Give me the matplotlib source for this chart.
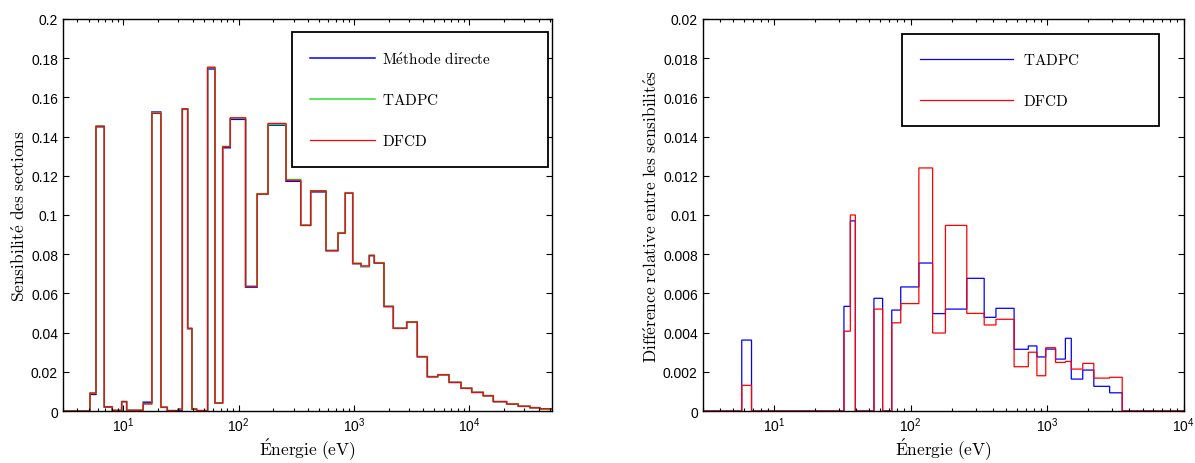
import numpy as np
import matplotlib
matplotlib.use('Agg')
import matplotlib.pyplot as plt
from matplotlib.ticker import FuncFormatter, MultipleLocator, LogLocator

plt.rcParams['font.family'] = ['Liberation Sans', 'DejaVu Sans']
plt.rcParams['mathtext.fontset'] = 'cm'

##### group boundaries (eV)
edges = [3.0, 5.14, 5.8, 6.84, 8.03, 9.69, 10.7, 14.9, 17.7, 21.2, 24.1, 30.0,
         32.5, 36.2, 39.4, 43.3, 53.9, 62.4, 72.8, 84.7, 115, 145, 180, 258,
         346, 422, 573, 728, 842, 977, 1153, 1361, 1503, 1824, 2198, 2871,
         3548, 4335, 5333, 6683, 8492, 10520, 13250, 16190, 21140, 26660,
         33650, 41120, 52200]

##### sensitivities (left panel)
sens_direct = [0, 0.0085, 0.1450, 0.0020, 0.0003, 0.0048, 0.0003, 0.0045,
               0.1525, 0.0019, 0.0002, 0.0005, 0.1540, 0.0420, 0.0010, 0.0002,
               0.1745, 0.0041, 0.1343, 0.1488, 0.0632, 0.1107, 0.1458, 0.1172,
               0.0947, 0.1118, 0.0818, 0.0908, 0.1112, 0.0752, 0.0737, 0.0793,
               0.0755, 0.0533, 0.0422, 0.0454, 0.0277, 0.0175, 0.0185, 0.0146,
               0.0116, 0.0095, 0.0078, 0.0048, 0.0036, 0.0024, 0.0017, 0.0010]
sens_tadpc = [0, 0.0092, 0.1455, 0.0022, 0.0003, 0.0048, 0.0004, 0.0038,
              0.1520, 0.0019, 0.0002, 0.0010, 0.1542, 0.0422, 0.0010, 0.0002,
              0.1752, 0.0041, 0.1350, 0.1494, 0.0636, 0.1109, 0.1462, 0.1181,
              0.0949, 0.1124, 0.0820, 0.0910, 0.1114, 0.0754, 0.0738, 0.0795,
              0.0757, 0.0535, 0.0423, 0.0455, 0.0278, 0.0176, 0.0186, 0.0147,
              0.0117, 0.0096, 0.0079, 0.0048, 0.0037, 0.0025, 0.0017, 0.0010]
sens_dfcd = [0, 0.0092, 0.1452, 0.0022, 0.0003, 0.0048, 0.0004, 0.0036,
             0.1518, 0.0019, 0.0002, 0.0010, 0.1542, 0.0422, 0.0010, 0.0002,
             0.1754, 0.0041, 0.1348, 0.1496, 0.0636, 0.1107, 0.1467, 0.1177,
             0.0947, 0.1123, 0.0818, 0.0908, 0.1112, 0.0752, 0.0740, 0.0793,
             0.0755, 0.0533, 0.0422, 0.0454, 0.0277, 0.0175, 0.0185, 0.0146,
             0.0116, 0.0095, 0.0078, 0.0048, 0.0036, 0.0024, 0.0017, 0.0012]

##### relative differences (right panel)
diff_tadpc = [0, 0, 0.00362, 0, 0, 0, 0, 0, 0, 0, 0, 0, 0.00534, 0.0097, 0, 0,
              0.00575, 0, 0.00515, 0.00633, 0.00755, 0.00497, 0.0052, 0.00677,
              0.00478, 0.00524, 0.00315, 0.00332, 0.00276, 0.00316, 0.00265,
              0.00371, 0.00163, 0.00209, 0.00126, 0.00093, 0, 0, 0, 0, 0, 0,
              0, 0, 0, 0, 0, 0]
diff_dfcd = [0, 0, 0.00131, 0, 0, 0, 0, 0, 0, 0, 0, 0, 0.00407, 0.0100, 0, 0,
             0.0052, 0, 0.0045, 0.00548, 0.0124, 0.00398, 0.00947, 0.00498,
             0.00439, 0.00468, 0.00226, 0.0030, 0.0018, 0.00323, 0.00248,
             0.00253, 0.00214, 0.00243, 0.00168, 0.00172, 0, 0, 0, 0, 0, 0,
             0, 0, 0, 0, 0, 0]

lab_direct = r'$\mathrm{M\acute{e}thode\ directe}$'
lab_tadpc = r'$\mathrm{TADPC}$'
lab_dfcd = r'$\mathrm{DFCD}$'
xlab = r'$\mathrm{\acute{E}nergie\ (eV)}$'

fig = plt.figure(figsize=(11.95, 4.64), dpi=100)
ax1 = fig.add_axes([0.0527, 0.112, 0.409, 0.845])
ax2 = fig.add_axes([0.588, 0.112, 0.4025, 0.845])

p1 = ax1.stairs(sens_direct, edges, baseline=None, color='#0000ff', lw=1.1, label=lab_direct)
p2 = ax1.stairs(sens_tadpc, edges, baseline=None, color='#33dd33', lw=1.1, label=lab_tadpc)
p3 = ax1.stairs(sens_dfcd, edges, baseline=None, color='#ff0000', lw=0.9, label=lab_dfcd)
p4 = ax2.stairs(diff_tadpc, edges, baseline=None, color='#0000ff', lw=0.9, label=lab_tadpc)
p5 = ax2.stairs(diff_dfcd, edges, baseline=None, color='#ff0000', lw=0.9, label=lab_dfcd)
for p in (p1, p2, p3, p4, p5):
    p.set_snap(False)

fmt = FuncFormatter(lambda v, p: '%g' % round(v, 6))

for ax in (ax1, ax2):
    ax.set_xscale('log')
    ax.xaxis.set_major_locator(LogLocator(base=10, numticks=10))
    ax.xaxis.set_minor_locator(LogLocator(base=10, subs=np.arange(2, 10), numticks=20))
    ax.yaxis.set_major_formatter(fmt)
    ax.tick_params(which='both', direction='in', top=True, right=True, labelsize=10, width=0.8)
    ax.tick_params(which='major', length=4)
    ax.tick_params(which='minor', length=2.5)
    for s in ax.spines.values():
        s.set_linewidth(1.0)
    ax.set_xlabel(xlab, fontsize=12.5, labelpad=1)

ax1.set_xlim(3, 5.2e4)
ax1.set_ylim(0, 0.2)
ax1.yaxis.set_major_locator(MultipleLocator(0.02))
ax1.set_ylabel(r'$\mathrm{Sensibilit\acute{e}\ des\ sections}$', fontsize=12.5, labelpad=2)

ax2.set_xlim(3, 1e4)
ax2.set_ylim(0, 0.02)
ax2.yaxis.set_major_locator(MultipleLocator(0.002))
ax2.set_ylabel(r'$\mathrm{Diff\acute{e}rence\ relative\ entre\ les\ sensibilit\acute{e}s}$',
               fontsize=12.5, labelpad=2)

leg1 = ax1.legend(loc='upper left', bbox_to_anchor=(0.468, 0.630, 0.524, 0.337),
                  mode='expand', borderaxespad=0, fontsize=11, handlelength=4.25,
                  handletextpad=0.45, labelspacing=1.7, borderpad=1.2,
                  fancybox=False, edgecolor='black', framealpha=1)
leg1.get_frame().set_linewidth(1.3)

leg2 = ax2.legend(loc='upper left', bbox_to_anchor=(0.414, 0.727, 0.534, 0.235),
                  mode='expand', borderaxespad=0, fontsize=11, handlelength=6.1,
                  handletextpad=0.65, labelspacing=1.7, borderpad=1.2,
                  fancybox=False, edgecolor='black', framealpha=1)
leg2.get_frame().set_linewidth(1.3)

plt.savefig('out.png', dpi=100)
